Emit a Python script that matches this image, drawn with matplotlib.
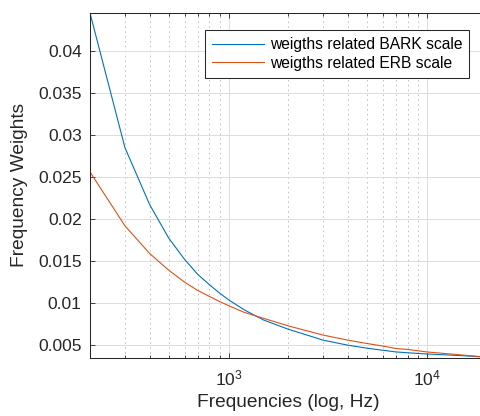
import matplotlib
matplotlib.use("Agg")
import matplotlib.pyplot as plt
from matplotlib.ticker import LogLocator, NullFormatter, FixedLocator, FixedFormatter

# ---- data ----
freqs = [200, 300, 400, 500, 600, 700, 800, 900, 1000, 1200, 1500, 2000,
         3000, 4000, 5000, 6000, 7000, 8000, 10000, 15000, 20000]
bark_weights = [0.0445, 0.0285, 0.0217, 0.0177, 0.0152, 0.0134, 0.0122, 0.0112,
                0.0104, 0.0092, 0.0080, 0.0069, 0.0056, 0.0050, 0.00464, 0.0044,
                0.0042, 0.0041, 0.00396, 0.00376, 0.00358]
erb_weights = [0.0256, 0.0192, 0.0159, 0.0139, 0.0125, 0.0115, 0.0108, 0.0102,
               0.0097, 0.0089, 0.0082, 0.0073, 0.0062, 0.0056, 0.0052, 0.0049,
               0.0046, 0.0045, 0.0042, 0.00384, 0.00358]
series_labels = ["weigths related BARK scale", "weigths related ERB scale"]
y_ticks = [0.005, 0.01, 0.015, 0.02, 0.025, 0.03, 0.035, 0.04]
y_tick_labels = ["0.005", "0.01", "0.015", "0.02", "0.025", "0.03", "0.035", "0.04"]
x_label = "Frequencies (log, Hz)"
y_label = "Frequency Weights"

# ---- style ----
TXT = "#262626"
plt.rcParams["font.family"] = ["Liberation Sans", "DejaVu Sans"]
plt.rcParams["mathtext.fontset"] = "custom"
plt.rcParams["mathtext.rm"] = "Liberation Sans"

W, H = 481, 416
fig = plt.figure(figsize=(W / 100, H / 100), dpi=100)
ax_left, ax_bottom = 90, 357.5
ax_w, ax_h = 396.6, 344.5
ax = fig.add_axes([ax_left / W, 1 - ax_bottom / H, ax_w / W, ax_h / H])

ax.plot(freqs, bark_weights, color="#0072BD", lw=0.8, label=series_labels[0])
ax.plot(freqs, erb_weights, color="#D95319", lw=0.8, label=series_labels[1])

ax.set_xscale("log")
ax.set_xlim(min(freqs), max(freqs))
ax.set_ylim(min(min(bark_weights), min(erb_weights)) - 0.00004,
            max(max(bark_weights), max(erb_weights)))

ax.xaxis.set_major_locator(LogLocator(base=10, numticks=10))
ax.xaxis.set_minor_locator(LogLocator(base=10, subs=range(2, 10), numticks=20))
ax.xaxis.set_minor_formatter(NullFormatter())
ax.yaxis.set_major_locator(FixedLocator(y_ticks))
ax.yaxis.set_major_formatter(FixedFormatter(y_tick_labels))

ax.tick_params(which="both", direction="in", top=True, right=True,
               color=TXT, labelcolor=TXT, labelsize=12.5, width=0.6)
ax.tick_params(which="major", length=3.5)
ax.tick_params(which="minor", length=2)
ax.tick_params(axis="y", pad=6)
ax.tick_params(axis="x", pad=8)

ax.grid(which="major", color="#dcdcdc", lw=0.7)
ax.xaxis.grid(which="minor", color="#bdbdbd", lw=0.7, linestyle=(0, (1.5, 3.5)))
ax.set_axisbelow(True)

for s in ax.spines.values():
    s.set_color(TXT)
    s.set_linewidth(0.75)

ax.set_xlabel(x_label, fontsize=13.75, color=TXT, labelpad=4)
ax.set_ylabel(y_label, fontsize=13.75, color=TXT, labelpad=7)

leg = ax.legend(loc="upper right", bbox_to_anchor=(469.3 / W, 1 - 30 / H),
                bbox_transform=fig.transFigure, borderaxespad=0,
                fontsize=11.25, fancybox=False, framealpha=1,
                edgecolor=TXT, handlelength=3.3, handletextpad=0.4,
                labelspacing=0.25, borderpad=0.45)
leg.get_frame().set_linewidth(0.75)
for t in leg.get_texts():
    t.set_color("#000000")

fig.savefig("out.png", dpi=100)
